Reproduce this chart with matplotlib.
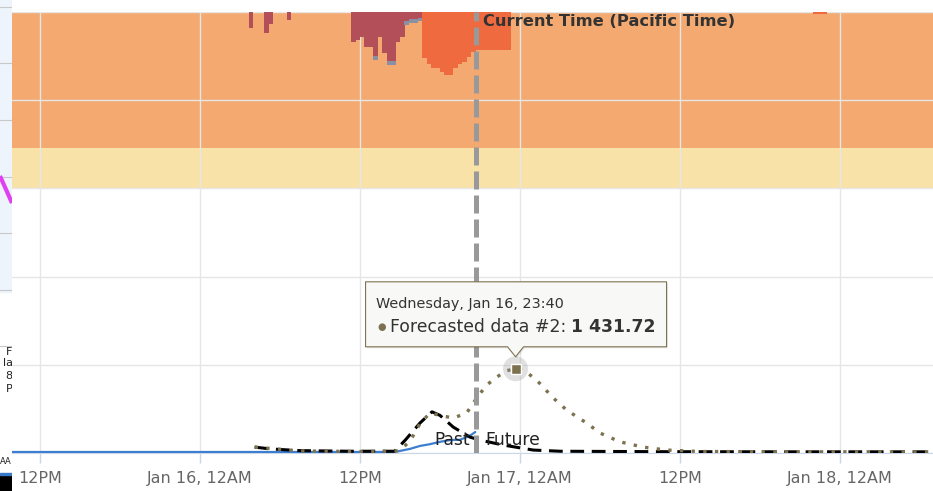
import matplotlib
matplotlib.use('Agg')
import matplotlib.pyplot as plt
import matplotlib.transforms as mtransforms
from matplotlib.patches import Polygon, Circle

# tiempo en horas desde Jan 16, 00:00 (hora del Pacifico)
tick_t = [-12, 0, 12, 24, 36, 48]
tick_labels = ['12PM', 'Jan 16, 12AM', '12PM', 'Jan 17, 12AM', '12PM', 'Jan 18, 12AM']

# datos medidos (serie azul, pasado)
blue_t = [-14.5, -8, 0, 8, 14.6, 15.0, 15.75, 16.5, 17.25, 18.0, 18.75, 19.5, 20.0, 20.35, 20.65]
blue_v = [17, 17, 17, 17, 18, 35, 70, 120, 150, 190, 220, 225, 270, 310, 357]

# pronostico 1 (linea negra discontinua)
f1_t = [4.1, 5.25, 7.5, 11.25, 14.6, 15.4, 16.5, 17.4, 18.0, 19.0, 20.25, 21.0, 22.75, 25.0, 27.0, 35.0, 45.0, 55.5]
f1_v = [100, 70, 40, 30, 30, 220, 510, 700, 640, 440, 270, 220, 135, 50, 30, 22, 20, 20]

# pronostico 2 (linea punteada oliva)
f2_t = [4.1, 7.5, 11.25, 14.6, 15.0, 15.75, 16.5, 17.25, 18.2, 19.0, 20.0, 20.8, 21.5, 22.25, 23.0,
        23.67, 24.4, 25.25, 26.5, 27.5, 29.0, 30.0, 31.5, 33.25, 35.0, 37.5, 45.0, 55.5]
f2_v = [100, 35, 25, 30, 50, 200, 500, 680, 630, 595, 680, 950, 1155, 1290, 1400,
        1431.72, 1390, 1240, 935, 730, 510, 340, 190, 100, 50, 25, 20, 20]

# columnas colgantes (eje invertido, arriba)
maroon_t = [3.67, 4.83, 5.17, 6.5, 11.33, 11.67, 12.0, 12.33, 12.67, 13.0, 13.33, 13.67,
            14.0, 14.33, 14.67, 15.0, 15.33, 15.67, 16.0, 16.33]
maroon_d = [3.6, 4.8, 2.7, 1.8, 6.8, 6.3, 5.7, 7.9, 7.9, 10.0, 5.7, 9.3,
            11.1, 11.1, 6.8, 5.7, 2.0, 1.6, 1.6, 1.4]
tip_d = [0, 0, 0, 0, 0, 0, 0, 0, 0, 0.9, 0, 0,
         0.9, 0.9, 0, 0, 0.9, 0.9, 0.9, 0.7]
red_t = [16.67, 17.0, 17.33, 17.67, 18.0, 18.33, 18.67, 19.0, 19.33, 19.67, 20.0, 20.33,
         20.67, 21.0, 21.33, 21.67, 22.0, 22.33, 22.67, 23.0, 46.0, 46.33, 46.67]
red_d = [10.4, 11.8, 12.7, 12.7, 13.6, 14.3, 14.3, 12.7, 11.8, 11.3, 10.2, 9.1,
         8.6, 8.6, 8.6, 8.6, 8.6, 8.6, 8.6, 8.6, 0.5, 0.5, 0.5]

now_t = 20.7
peak_t = 23.67
peak_v = 1431.72

OLIVE = '#7d7250'
GRID = '#e6e6e6'

fig = plt.figure(figsize=(9.33, 4.91), dpi=100)

# franja izquierda (restos de otro elemento)
axl = fig.add_axes([0, 0, 12 / 933, 1])
axl.set_xlim(0, 12)
axl.set_ylim(491, 0)
axl.axis('off')
axl.axhspan(0, 292, color='#eef4fc', zorder=0)
for yy in [7, 63, 120, 177, 233, 290, 346]:
    axl.axhline(yy, color='#c8c8c8', lw=0.8)
axl.plot([0, 12], [176, 203], color='#e040f0', lw=3, solid_capstyle='butt')
for yy, s in [(352, 'F'), (363, 'la'), (376, '8'), (389, 'P')]:
    axl.text(12.5, yy, s, ha='right', va='center', fontsize=8, color='#222', clip_on=True)
axl.text(0, 461, 'AA', ha='left', va='center', fontsize=6, color='#222', clip_on=True)
axl.axhspan(474, 491, color='black')
axl.axhspan(473, 475, color='#3a78c8')

# eje principal
ax = fig.add_axes([12 / 933, 38 / 491, 921 / 933, 441 / 491])
ax.set_xlim(-14.1, 54.98)
ax.set_ylim(0, 7500)
ax.axhspan(4500, 5180, color='#f9e2a7', zorder=0, lw=0)
ax.axhspan(5180, 7500, color='#f3a970', zorder=0, lw=0)

ax.set_yticks([0, 1500, 3000, 4500, 6000, 7500])
ax.set_xticks(tick_t)
ax.set_xticklabels(tick_labels)
ax.grid(True, color=GRID, lw=1)
for gl in ax.get_xgridlines() + ax.get_ygridlines():
    gl.set_zorder(0.5)
for sp in ['top', 'right', 'left']:
    ax.spines[sp].set_visible(False)
ax.spines['bottom'].set_color('#ccd6eb')

ax.plot(blue_t, blue_v, color='#3c7fd0', lw=1.6, zorder=3, solid_capstyle='round')
ax.plot(f1_t, f1_v, color='black', lw=2.2, ls=(0, (4.5, 2.5)), zorder=4, dash_capstyle='butt')
ax.plot(f2_t, f2_v, color=OLIVE, lw=2.4, ls=(0, (1, 2.5)), zorder=5, dash_capstyle='butt')

# columnas colgantes en eje gemelo invertido
ax2 = ax.twinx()
ax2.set_ylim(100, 0)
ax2.axis('off')
ax2.bar(maroon_t, maroon_d, width=0.34, align='edge', color='#b34f58', lw=0)
ax2.bar(maroon_t, tip_d, bottom=maroon_d, width=0.34, align='edge', color='#8b8fa2', lw=0)
ax2.bar(red_t, red_d, width=0.34, align='edge', color='#ef6a3f', lw=0)

# twinx vuelve a activar las marcas de la izquierda
ax.tick_params(axis='y', left=False, right=False, labelleft=False, labelright=False)
ax.tick_params(axis='x', length=7, color='#ccd6eb', width=1, labelsize=11.5,
               labelcolor='#666666', pad=6)

# linea del tiempo actual
ax2.axvline(now_t, color='#999999', lw=3.6, ls=(0, (3.6, 1.2)), dash_capstyle='butt', zorder=6)
ax2.annotate('Current Time (Pacific Time)', xy=(now_t, 1), xycoords=('data', 'axes fraction'),
             xytext=(7, -9), textcoords='offset pixels', ha='left', va='center',
             fontsize=11.7, fontweight='bold', color='#333333', zorder=7)
ax2.annotate('Past', xy=(now_t, 221), xycoords=ax.transData, xytext=(-6, 0),
             textcoords='offset pixels', ha='right', va='center', fontsize=12.3, color='#222222')
ax2.annotate('Future', xy=(now_t, 221), xycoords=ax.transData, xytext=(9, 0),
             textcoords='offset pixels', ha='left', va='center', fontsize=12.3, color='#222222')

# tooltip sobre el maximo del pronostico 2
pt = mtransforms.IdentityTransform() + mtransforms.ScaledTranslation(peak_t, peak_v, ax.transData)
ax2.add_patch(Circle((0, 0), 12.5, transform=pt, color='#9a9a9a', alpha=0.3, lw=0, zorder=8))
ax2.plot([peak_t], [peak_v], marker='s', ms=6.5, color=OLIVE, mec='white', mew=1,
         transform=ax.transData, zorder=9)
box = [(-150, 22), (-8, 22), (0, 12), (8, 22), (151, 22), (151, 87), (-150, 87)]
shadow = [(x + 1.5, y - 1.5) for x, y in box]
ax2.add_patch(Polygon(shadow, closed=True, transform=pt, color='black', alpha=0.08, lw=0, zorder=9))
ax2.add_patch(Polygon(box, closed=True, transform=pt, facecolor='#f8f8f6', edgecolor=OLIVE,
                      lw=0.8, joinstyle='round', zorder=10))
ax2.text(-140, 65, 'Wednesday, Jan 16, 23:40', transform=pt, ha='left', va='center',
         fontsize=10.4, color='#333333', zorder=11)
ax2.text(-138, 42, '\u25cf', transform=pt, ha='left', va='center', fontsize=7, color=OLIVE, zorder=11)
t1 = ax2.text(-126, 42, 'Forecasted data #2: ', transform=pt, ha='left', va='center',
              fontsize=12.4, color='#333333', zorder=11)
fig.canvas.draw()
bb = t1.get_window_extent()
x_end = bb.x1 - ax.transData.transform((peak_t, peak_v))[0]
ax2.text(x_end, 42, '1 431.72', transform=pt, ha='left', va='center',
         fontsize=12.4, fontweight='bold', color='#333333', zorder=11)

fig.savefig('out.png', dpi=100)
